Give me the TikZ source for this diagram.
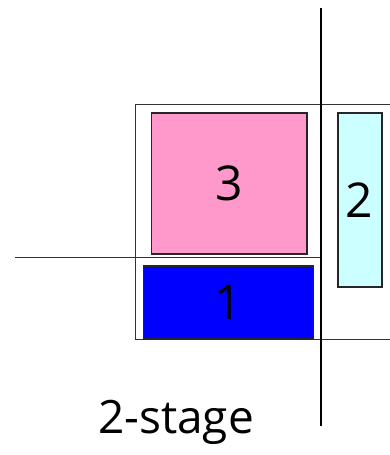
\documentclass[tikz,border=0pt]{standalone}
\usepackage{fontspec}
\setmainfont{Open Sans}
\usepackage{tikz}
\definecolor{stagepink}{HTML}{FF99CC}
\definecolor{stageblue}{HTML}{0000FF}
\definecolor{stagecyan}{HTML}{CCFFFF}
\definecolor{cutgray}{HTML}{333333}

\begin{document}
\begin{tikzpicture}[x=1pt,y=-1pt,
    blk/.style={draw=black!85,line width=1.6pt,inner sep=0pt,
      font=\fontsize{48}{48}\selectfont}]
  \useasboundingbox (0,0) rectangle (390,455);
  % cut lines
  \draw[cutgray,line width=1pt] (15,257.5) -- (321,257.5);
  \draw[cutgray,line width=1pt] (390,104.5) -- (135,104.5) -- (135,339) -- (390,339);
  \draw[black,line width=1.8pt] (321,8) -- (321,426);
  % blocks
  \node[blk,fill=stagepink,minimum width=155.5pt,minimum height=141pt] (blk3) at (229.3,183.2) {3};
  \node[blk,fill=stagecyan,minimum width=44pt,minimum height=174.3pt] (blk2) at (359.7,199.9) {2};
  \node[blk,fill=stageblue,minimum width=170pt,minimum height=73pt] (blk1) at (228.3,302.2) {1};
  \node[anchor=base,font=\fontsize{46}{46}\selectfont] (title) at (176,433) {2-stage};
\end{tikzpicture}
\end{document}
